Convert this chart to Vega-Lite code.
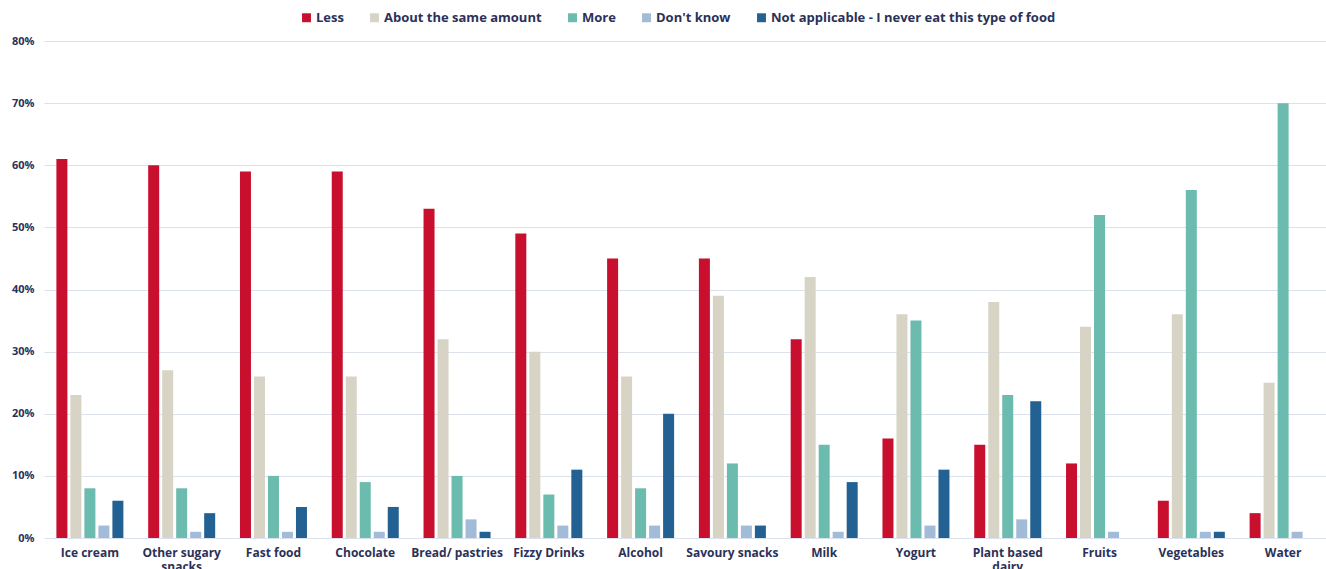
{
  "$schema": "https://vega.github.io/schema/vega-lite/v6.json",
  "autosize": {"type": "none"},
  "padding": {"left": 44, "top": 41, "right": 0, "bottom": 31},
  "width": 1285,
  "height": 497,
  "background": "#ffffff",
  "config": {
    "view": {"stroke": null},
    "font": "Open Sans",
    "axis": {"labelFont": "Open Sans", "labelFontWeight": "bold", "labelColor": "#2B3158"},
    "legend": {"labelFont": "Open Sans", "labelFontWeight": "bold", "labelColor": "#2B3158"}
  },
  "data": {
    "values": [
      {"food": "Ice cream", "answer": "Less", "pct": 61},
      {"food": "Ice cream", "answer": "About the same amount", "pct": 23},
      {"food": "Ice cream", "answer": "More", "pct": 8},
      {"food": "Ice cream", "answer": "Don't know", "pct": 2},
      {"food": "Ice cream", "answer": "Not applicable - I never eat this type of food", "pct": 6},
      {"food": "Other sugary snacks", "answer": "Less", "pct": 60},
      {"food": "Other sugary snacks", "answer": "About the same amount", "pct": 27},
      {"food": "Other sugary snacks", "answer": "More", "pct": 8},
      {"food": "Other sugary snacks", "answer": "Don't know", "pct": 1},
      {"food": "Other sugary snacks", "answer": "Not applicable - I never eat this type of food", "pct": 4},
      {"food": "Fast food", "answer": "Less", "pct": 59},
      {"food": "Fast food", "answer": "About the same amount", "pct": 26},
      {"food": "Fast food", "answer": "More", "pct": 10},
      {"food": "Fast food", "answer": "Don't know", "pct": 1},
      {"food": "Fast food", "answer": "Not applicable - I never eat this type of food", "pct": 5},
      {"food": "Chocolate", "answer": "Less", "pct": 59},
      {"food": "Chocolate", "answer": "About the same amount", "pct": 26},
      {"food": "Chocolate", "answer": "More", "pct": 9},
      {"food": "Chocolate", "answer": "Don't know", "pct": 1},
      {"food": "Chocolate", "answer": "Not applicable - I never eat this type of food", "pct": 5},
      {"food": "Bread/ pastries", "answer": "Less", "pct": 53},
      {"food": "Bread/ pastries", "answer": "About the same amount", "pct": 32},
      {"food": "Bread/ pastries", "answer": "More", "pct": 10},
      {"food": "Bread/ pastries", "answer": "Don't know", "pct": 3},
      {"food": "Bread/ pastries", "answer": "Not applicable - I never eat this type of food", "pct": 1},
      {"food": "Fizzy Drinks", "answer": "Less", "pct": 49},
      {"food": "Fizzy Drinks", "answer": "About the same amount", "pct": 30},
      {"food": "Fizzy Drinks", "answer": "More", "pct": 7},
      {"food": "Fizzy Drinks", "answer": "Don't know", "pct": 2},
      {"food": "Fizzy Drinks", "answer": "Not applicable - I never eat this type of food", "pct": 11},
      {"food": "Alcohol", "answer": "Less", "pct": 45},
      {"food": "Alcohol", "answer": "About the same amount", "pct": 26},
      {"food": "Alcohol", "answer": "More", "pct": 8},
      {"food": "Alcohol", "answer": "Don't know", "pct": 2},
      {"food": "Alcohol", "answer": "Not applicable - I never eat this type of food", "pct": 20},
      {"food": "Savoury snacks", "answer": "Less", "pct": 45},
      {"food": "Savoury snacks", "answer": "About the same amount", "pct": 39},
      {"food": "Savoury snacks", "answer": "More", "pct": 12},
      {"food": "Savoury snacks", "answer": "Don't know", "pct": 2},
      {"food": "Savoury snacks", "answer": "Not applicable - I never eat this type of food", "pct": 2},
      {"food": "Milk", "answer": "Less", "pct": 32},
      {"food": "Milk", "answer": "About the same amount", "pct": 42},
      {"food": "Milk", "answer": "More", "pct": 15},
      {"food": "Milk", "answer": "Don't know", "pct": 1},
      {"food": "Milk", "answer": "Not applicable - I never eat this type of food", "pct": 9},
      {"food": "Yogurt", "answer": "Less", "pct": 16},
      {"food": "Yogurt", "answer": "About the same amount", "pct": 36},
      {"food": "Yogurt", "answer": "More", "pct": 35},
      {"food": "Yogurt", "answer": "Don't know", "pct": 2},
      {"food": "Yogurt", "answer": "Not applicable - I never eat this type of food", "pct": 11},
      {"food": "Plant based dairy", "answer": "Less", "pct": 15},
      {"food": "Plant based dairy", "answer": "About the same amount", "pct": 38},
      {"food": "Plant based dairy", "answer": "More", "pct": 23},
      {"food": "Plant based dairy", "answer": "Don't know", "pct": 3},
      {"food": "Plant based dairy", "answer": "Not applicable - I never eat this type of food", "pct": 22},
      {"food": "Fruits", "answer": "Less", "pct": 12},
      {"food": "Fruits", "answer": "About the same amount", "pct": 34},
      {"food": "Fruits", "answer": "More", "pct": 52},
      {"food": "Fruits", "answer": "Don't know", "pct": 1},
      {"food": "Vegetables", "answer": "Less", "pct": 6},
      {"food": "Vegetables", "answer": "About the same amount", "pct": 36},
      {"food": "Vegetables", "answer": "More", "pct": 56},
      {"food": "Vegetables", "answer": "Don't know", "pct": 1},
      {"food": "Vegetables", "answer": "Not applicable - I never eat this type of food", "pct": 1},
      {"food": "Water", "answer": "Less", "pct": 4},
      {"food": "Water", "answer": "About the same amount", "pct": 25},
      {"food": "Water", "answer": "More", "pct": 70},
      {"food": "Water", "answer": "Don't know", "pct": 1}
    ]
  },
  "mark": {"type": "bar"},
  "encoding": {
    "x": {
      "field": "food",
      "type": "nominal",
      "sort": null,
      "title": null,
      "scale": {"paddingInner": 0.27, "paddingOuter": 0.135},
      "axis": {
        "labelAngle": 0,
        "labelFontSize": 12,
        "labelPadding": 9,
        "labelLineHeight": 14,
        "labelLimit": 0,
        "labelBaseline": "top",
        "ticks": false,
        "domain": false,
        "labelExpr": "datum.label == 'Other sugary snacks' ? ['Other sugary', 'snacks'] : datum.label == 'Plant based dairy' ? ['Plant based', 'dairy'] : datum.label"
      }
    },
    "xOffset": {
      "field": "answer",
      "type": "nominal",
      "scale": {
        "domain": ["Less", "About the same amount", "More", "Don't know", "Not applicable - I never eat this type of food"],
        "paddingInner": 0.214,
        "paddingOuter": 0
      }
    },
    "y": {
      "field": "pct",
      "type": "quantitative",
      "title": null,
      "scale": {"domain": [0, 80], "nice": false},
      "axis": {
        "values": [0, 10, 20, 30, 40, 50, 60, 70, 80],
        "labelExpr": "datum.value + '%'",
        "labelFontSize": 11,
        "labelPadding": 10,
        "ticks": false,
        "domain": false,
        "gridColor": "#DCE1EE",
        "gridWidth": 1
      }
    },
    "color": {
      "field": "answer",
      "type": "nominal",
      "title": null,
      "scale": {
        "domain": ["Less", "About the same amount", "More", "Don't know", "Not applicable - I never eat this type of food"],
        "range": ["#C8102E", "#D7D3C5", "#6BBBAE", "#A1BBD8", "#236192"]
      },
      "legend": {
        "orient": "none",
        "legendX": 256,
        "legendY": -30,
        "direction": "horizontal",
        "symbolType": "square",
        "symbolSize": 80,
        "symbolStrokeWidth": 0,
        "labelFontSize": 13,
        "labelLimit": 0,
        "labelOffset": 3,
        "columnPadding": 24
      }
    }
  }
}
